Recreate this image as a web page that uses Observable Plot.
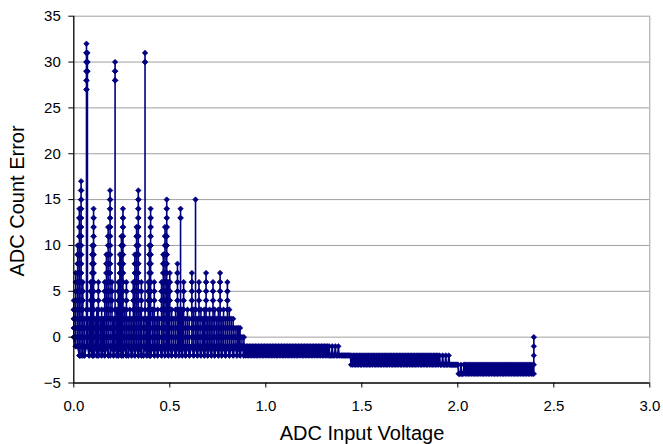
<!DOCTYPE html>
<html><head><meta charset="utf-8">
<script src="https://cdn.jsdelivr.net/npm/d3@7"></script>
<script src="https://cdn.jsdelivr.net/npm/@observablehq/plot@0.6"></script>
<style>body{margin:0;background:#fff}</style>
</head><body><div id="chart"></div>
<script>
// ---- data ----
// left region: columns of readings (voltage, lowest error, highest error, first value of the top run)
const colX   = [0.000,0.010,0.020,0.029,0.038,0.047,0.056,0.066,0.071,0.080,0.088,0.096,0.103,0.112,0.120,0.128,0.137,0.145,0.153,0.161,0.170,0.179,0.189,0.199,0.207,0.215,0.224,0.232,0.240,0.248,0.256,0.265,0.274,0.283,0.292,0.301,0.310,0.318,0.327,0.336,0.345,0.352,0.362,0.371,0.380,0.388,0.394,0.400,0.410,0.419,0.428,0.437,0.446,0.457,0.466,0.475,0.484,0.492,0.500,0.510,0.520,0.530,0.540,0.548,0.556,0.564,0.572,0.582,0.592,0.602,0.615,0.624,0.634,0.643,0.652,0.662,0.672,0.680,0.689,0.698,0.707,0.716,0.725,0.734,0.744,0.753,0.762,0.771,0.780,0.790,0.800,0.810,0.820,0.830,0.840,0.850,0.858,0.866,0.876,0.886];
const colLo  = [0,-1,-1,-2,-2,-2,-2,-1,-1,-2,-1,-2,-2,-1,-2,-2,-1,-2,-1,-2,-1,-2,-2,-1,-2,-1,-2,-2,-1,-2,-2,-1,-2,-2,-1,-2,-1,-2,-1,-2,-1,-2,-2,-1,-2,-1,-2,-2,-1,-2,-1,-2,-1,-2,-1,-2,-1,-2,-1,-2,-1,-2,-1,-2,-1,-2,-1,-2,-1,-2,-1,-2,-1,-2,-1,-2,-1,-2,-1,-2,-1,-2,-1,-2,-1,-2,-1,-2,-1,-2,-1,-2,-1,-2,-1,-2,-1,-2,-1,-2];
const colHi  = [4,7,10,14,17,6,2,32,31,2,6,10,14,2,3,6,2,3,2,6,9,12,16,6,2,30,3,6,9,11,14,3,6,2,3,2,6,9,12,16,3,6,2,31,2,6,10,14,3,6,2,3,2,6,9,12,15,6,7,3,2,3,8,3,14,3,6,2,3,2,7,3,15,2,6,3,2,3,7,2,3,2,6,3,2,3,7,2,3,2,6,3,2,2,1,1,1,1,0,0];
const colRun = [0,-1,-1,-2,-2,-2,-2,27,29,-2,-1,-2,-2,-1,-2,-2,-1,-2,-1,-2,-1,-2,-2,-1,-2,28,-2,-2,-1,-2,-2,-1,-2,-2,-1,-2,-1,-2,-1,-2,-1,-2,-2,30,-2,-1,-2,-2,-1,-2,-1,-2,-1,-2,-1,-2,-1,-2,-1,-2,-1,-2,-1,-2,13,-2,-1,-2,-1,-2,-1,-2,15,-2,-1,-2,-1,-2,-1,-2,-1,-2,-1,-2,-1,-2,-1,-2,-1,-2,-1,-2,-1,-2,-1,-2,-1,-2,-1,-2];
// right region: bands where the error toggles between two counts
const bandX0    = [0.890,1.330,1.392,1.440,1.905,1.958,2.000,2.035];
const bandX1    = [1.330,1.392,1.440,1.905,1.958,2.000,2.035,2.394];
const bandHi    = [-1,-1,-2,-2,-2,-3,-3,-3];
const bandLo    = [-2,-2,-2,-3,-3,-3,-4,-4];
const bandEvery = [2,4,1,2,4,1,4,2];
const bandStep  = 0.004;
// last reading column
const endX = 2.396, endLo = -4, endHi = 0;
const xTicks = [0,0.5,1,1.5,2,2.5,3];
const yTicks = [-5,0,5,10,15,20,25,30,35];

// ---- build the reading sequence ----
const pts = [];
colX.forEach((x,i)=>{
  const vals = [];
  for (let v = colLo[i]; v <= colHi[i]; v++) if (v <= 3 || v >= colRun[i]) vals.push(v);
  vals.forEach(v=>pts.push({x, y:v}));
  vals.slice(0,-1).reverse().forEach(v=>pts.push({x, y:v}));
});
bandX0.forEach((x0,i)=>{
  const n = Math.round((bandX1[i]-x0)/bandStep);
  for (let k=0;k<n;k++) pts.push({x:x0+k*bandStep, y:(k%bandEvery[i]===0)?bandHi[i]:bandLo[i]});
});
for (let v=endLo; v<=endHi; v++) pts.push({x:endX, y:v});

const navy = "#000080";
const chart = Plot.plot({
  width: 663, height: 444,
  marginLeft: 73.3, marginRight: 13.7, marginTop: 15.7, marginBottom: 61.5,
  x: {domain:[0,3]},
  y: {domain:[-5,35]},
  style: {fontFamily:"'Liberation Sans', Arial, sans-serif", fontSize:"15px", color:"#000", background:"#fff"},
  marks: [
    Plot.ruleY(yTicks.filter(d=>d>-5), {stroke:"#a0a0a0", strokeWidth:1}),
    Plot.ruleX([3], {stroke:"#a0a0a0", strokeWidth:1}),
    Plot.line(pts, {x:"x", y:"y", stroke:navy, strokeWidth:1.6}),
    Plot.dot(pts, {x:"x", y:"y", symbol:"diamond2", r:2.5, fill:navy, stroke:navy, strokeWidth:0.6}),
    Plot.axisX({ticks:xTicks, tickFormat:d3.format(".1f"), tickSize:5, tickPadding:12, label:null, fontSize:15}),
    Plot.axisY({ticks:yTicks, tickSize:5, tickPadding:8, label:null, fontSize:15}),
    Plot.ruleX([0], {stroke:"#000", strokeWidth:1.3}),
    Plot.ruleY([-5], {stroke:"#000", strokeWidth:1.3})
  ]
});
const svg = d3.select(chart);
svg.append("text").attr("x",362).attr("y",440).attr("text-anchor","middle")
  .attr("font-family","'Liberation Sans', Arial, sans-serif").attr("font-size",20).attr("fill","#000")
  .text("ADC Input Voltage");
svg.append("text").attr("transform","translate(24,201) rotate(-90)").attr("text-anchor","middle")
  .attr("font-family","'Liberation Sans', Arial, sans-serif").attr("font-size",20).attr("fill","#000")
  .text("ADC Count Error");
document.getElementById("chart").appendChild(chart);
</script>
</body></html>
